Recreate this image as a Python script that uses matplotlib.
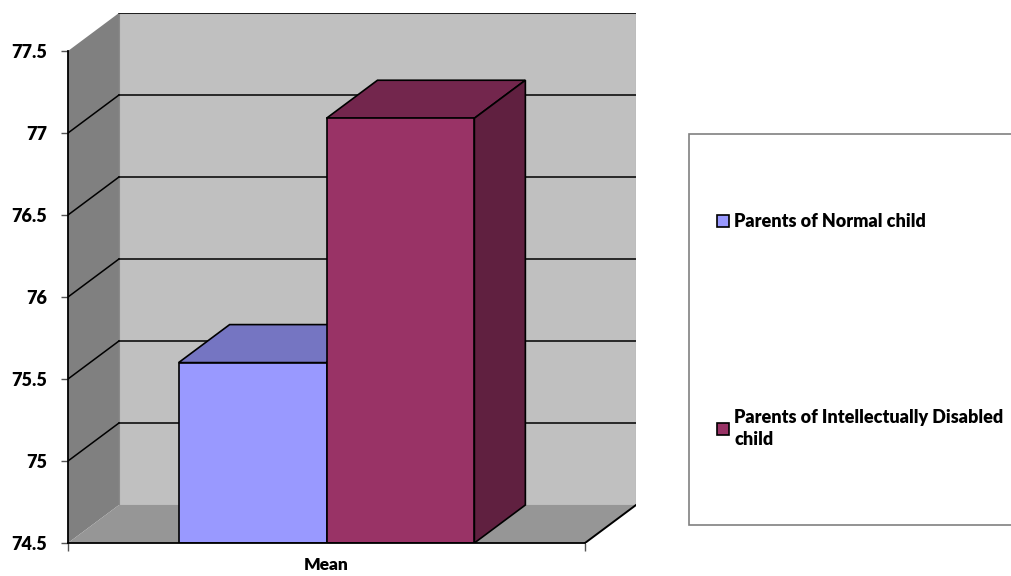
import matplotlib
matplotlib.use("Agg")
import matplotlib.pyplot as plt
from matplotlib.patches import Polygon, Patch, Rectangle

plt.rcParams['font.family'] = ['Lato', 'DejaVu Sans']
plt.rcParams['font.weight'] = 'heavy'

# data
category = ['Mean']
series = ['Parents of Normal child', 'Parents of Intellectually Disabled\nchild']
values = [75.6, 77.09]
y_ticks = [74.5, 75, 75.5, 76, 76.5, 77, 77.5]

front_colors = ['#9999FF', '#993366']
top_colors = ['#7575C2', '#73264D']
side_colors = ['#5C5C99', '#602040']

ymin, ymax = 74.5, 77.5
DX = 0.0986          # depth offset in x (category units)
DY = 0.2317          # depth offset in y (value units)
bar_w = 0.286

fig = plt.figure(figsize=(10.12, 5.76), dpi=100)
ax = fig.add_axes([68/1012, 33/576, 568/1012, 530/576])
ax.set_xlim(0, 1 + DX)
ax.set_ylim(ymin, ymax + DY)

# walls and floor
ax.add_patch(Polygon([(0, ymin), (0, ymax), (DX, ymax + DY), (DX, ymin + DY)],
                     closed=True, fc='#808080', ec='none', zorder=1))
ax.add_patch(Polygon([(DX, ymin + DY), (DX, ymax + DY), (1 + DX, ymax + DY), (1 + DX, ymin + DY)],
                     closed=True, fc='#C0C0C0', ec='#8A8A8A', lw=0.8, zorder=1))
ax.add_patch(Polygon([(0, ymin), (1, ymin), (1 + DX, ymin + DY), (DX, ymin + DY)],
                     closed=True, fc='#969696', ec='none', zorder=2))

# gridlines
for v in y_ticks[1:]:
    ax.plot([DX, 1 + DX], [v + DY, v + DY], color='black', lw=1.1, zorder=1.5)
    if v < ymax:
        ax.plot([0, DX], [v, v + DY], color='black', lw=1.1, zorder=1.5)

# front floor edge
ax.plot([1, 1 + DX], [ymin, ymin + DY], color='black', lw=1.4, zorder=3)

# bars
x0 = 0.5 - bar_w
for i, val in enumerate(values):
    xa = x0 + i * bar_w
    xb = xa + bar_w
    ax.add_patch(Polygon([(xa, val), (xb, val), (xb + DX, val + DY), (xa + DX, val + DY)],
                         closed=True, fc=top_colors[i], ec='black', lw=1.2, zorder=4 + i))
    ax.add_patch(Polygon([(xb, ymin), (xb + DX, ymin + DY), (xb + DX, val + DY), (xb, val)],
                         closed=True, fc=side_colors[i], ec='black', lw=1.2, zorder=4 + i))
    ax.add_patch(Polygon([(xa, ymin), (xb, ymin), (xb, val), (xa, val)],
                         closed=True, fc=front_colors[i], ec='black', lw=1.2, zorder=4 + i))

# axes
for s in ['top', 'right']:
    ax.spines[s].set_visible(False)
ax.spines['left'].set_bounds(ymin, ymax)
ax.spines['bottom'].set_bounds(0, 1)
ax.spines['left'].set_linewidth(1.3)
ax.spines['bottom'].set_linewidth(1.3)
ax.spines['left'].set_zorder(6)
ax.spines['bottom'].set_zorder(6)
ax.set_yticks(y_ticks)
ax.set_yticklabels([('%g' % t) for t in y_ticks], fontsize=13, fontweight='heavy')
ax.tick_params(axis='y', length=5, width=1, color='#555555', pad=10)
ax.set_xticks([0, 1])
ax.set_xticklabels(['', ''])
ax.tick_params(axis='x', which='major', length=6, width=1, color='#555555')
ax.set_xticks([0.5], labels=category, minor=True)
ax.tick_params(axis='x', which='minor', length=0, pad=10, labelsize=12.5)
for lab in ax.get_xticklabels(minor=True):
    lab.set_fontweight('heavy')
ax.set_facecolor('none')

# legend
fig.patches.append(Rectangle((689/1012, 51/576), 330/1012, 391/576, transform=fig.transFigure,
                             fc='white', ec='#808080', lw=1.2, zorder=0))
handles = [Patch(fc=front_colors[i], ec='black', lw=1.2) for i in range(len(series))]
leg = fig.legend(handles, series, loc='upper left', bbox_to_anchor=(708/1012, 372/576),
                 frameon=False, prop={'weight': 'heavy', 'size': 13},
                 handlelength=0.65, handleheight=0.65, handletextpad=0.3,
                 labelspacing=9.93, borderpad=0)
for t in leg.get_texts():
    t.set_linespacing(1.3)

fig.savefig('out.png', dpi=100)
